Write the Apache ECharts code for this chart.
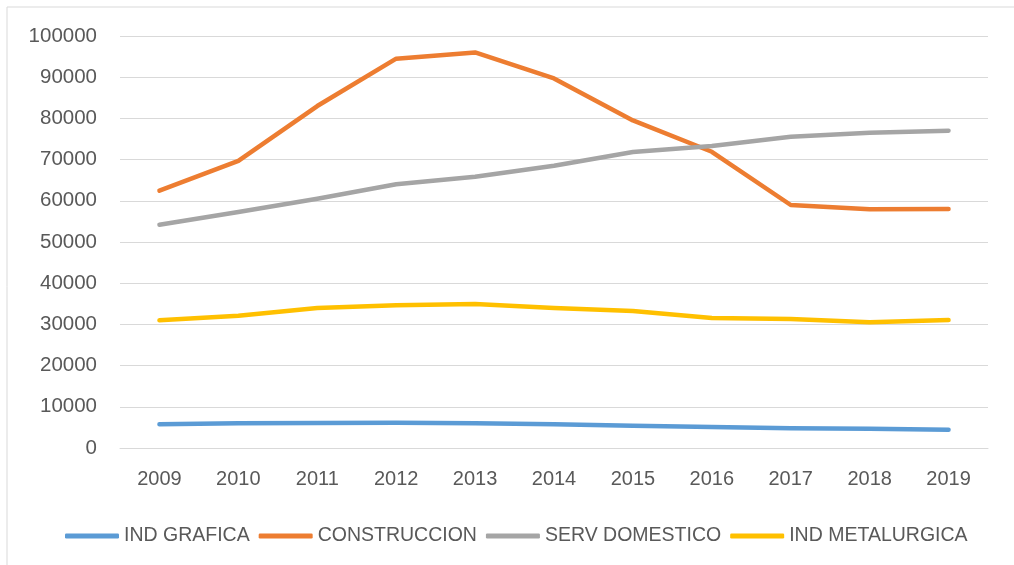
<!DOCTYPE html>
<html>
<head>
<meta charset="utf-8">
<script src="https://cdn.jsdelivr.net/npm/echarts@6/dist/echarts.min.js"></script>
<style>
html,body{margin:0;padding:0;background:#fff;}
#chart{width:1014px;height:565px;}
</style>
</head>
<body>
<div id="chart"></div>
<script>
const years = ['2009','2010','2011','2012','2013','2014','2015','2016','2017','2018','2019'];
const indGrafica = [5750, 5990, 6070, 6150, 5990, 5750, 5420, 5100, 4780, 4700, 4440];
const construccion = [62450, 69700, 83000, 94500, 96000, 89700, 79500, 71900, 58980, 57930, 58000];
const servDomestico = [54200, 57280, 60500, 64000, 65850, 68520, 71840, 73300, 75560, 76530, 77020];
const indMetalurgica = [30990, 32120, 33980, 34630, 34950, 33980, 33250, 31550, 31310, 30500, 31070];
const seriesNames = ['IND GRAFICA', 'CONSTRUCCION', 'SERV DOMESTICO', 'IND METALURGICA'];
const colors = ['#5B9BD5', '#ED7D31', '#A5A5A5', '#FFC000'];

const font = '"Liberation Sans", Arial, sans-serif';
const chart = echarts.init(document.getElementById('chart'));
const dataSets = [indGrafica, construccion, servDomestico, indMetalurgica];
chart.setOption({
  animation: false,
  backgroundColor: '#fff',
  color: colors,
  graphic: [{
    type: 'rect',
    shape: { x: 7, y: 7, width: 1020, height: 570 },
    style: { fill: 'none', stroke: '#D9D9D9', lineWidth: 1 },
    silent: true
  }],
  grid: { left: 120, right: 26, top: 36, bottom: 117, containLabel: false },
  legend: {
    data: seriesNames,
    left: 60,
    top: 521,
    itemWidth: 54,
    itemHeight: 5,
    itemGap: 9,
    icon: 'roundRect',
    textStyle: { color: '#595959', fontSize: 19.5, fontFamily: font }
  },
  xAxis: {
    type: 'category',
    data: years,
    boundaryGap: true,
    axisLine: { show: true, lineStyle: { color: '#D9D9D9', width: 1 } },
    axisTick: { show: false },
    axisLabel: { color: '#595959', fontSize: 20, fontFamily: font, margin: 21 }
  },
  yAxis: {
    type: 'value',
    min: 0,
    max: 100000,
    interval: 10000,
    axisLine: { show: false },
    axisTick: { show: false },
    splitLine: { lineStyle: { color: '#D9D9D9', width: 1 } },
    axisLabel: { color: '#595959', fontSize: 20.5, fontFamily: font, margin: 23, formatter: v => String(v) }
  },
  series: seriesNames.map((n, i) => ({
    name: n,
    type: 'line',
    data: dataSets[i],
    symbol: 'none',
    lineStyle: { width: 4.5, color: colors[i], cap: 'round', join: 'round' },
    itemStyle: { color: colors[i] }
  }))
});
</script>
</body>
</html>
